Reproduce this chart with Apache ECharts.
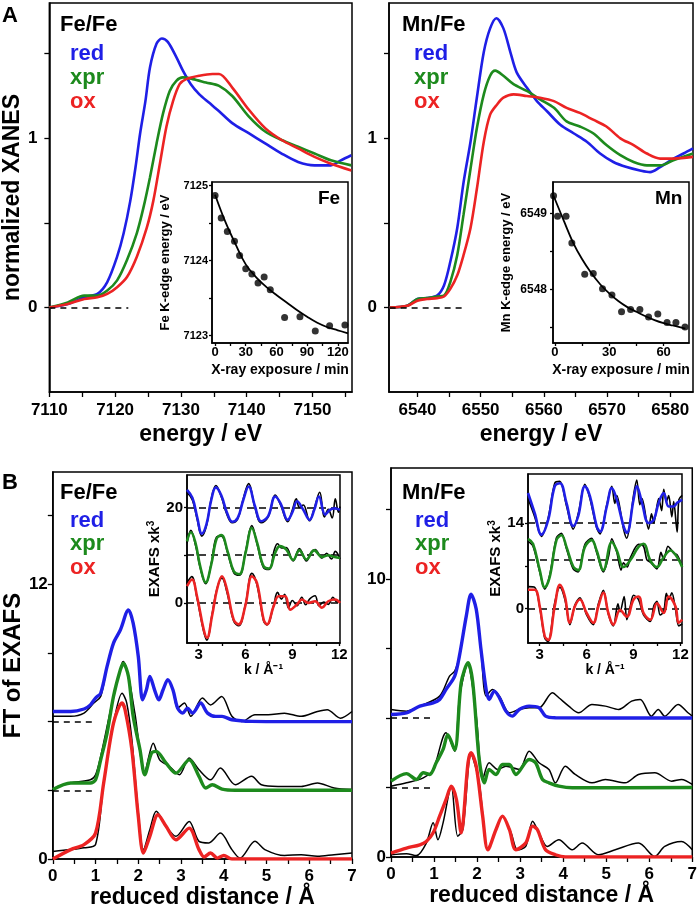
<!DOCTYPE html>
<html>
<head>
<meta charset="utf-8">
<script src="https://cdn.jsdelivr.net/npm/echarts@6/dist/echarts.min.js"></script>
<style>
  html, body { margin: 0; padding: 0; background: #fff; }
  #chart { width: 700px; height: 914px; }
</style>
</head>
<body>
<div id="chart"></div>
<script>
// ---- XANES (panel A), [energy eV, normalized absorption]
const feXanesRed = [[7110,0],[7112.8,0.02],[7115.3,0.06],[7117.3,0.08],[7118.8,0.15],[7120.3,0.30],[7121.3,0.44],[7122.3,0.63],[7123.1,0.83],[7123.8,1.03],[7124.6,1.22],[7125.3,1.42],[7126.3,1.56],[7127.1,1.59],[7128.0,1.57],[7129.3,1.48],[7130.3,1.40],[7131.5,1.32],[7132.8,1.26],[7134.3,1.21],[7135.8,1.16],[7137.8,1.09],[7140.3,1.03],[7142.8,0.97],[7145.3,0.91],[7147.8,0.86],[7150.3,0.84],[7152.8,0.84],[7154.3,0.87],[7155.9,0.90]];
const feXanesXpr = [[7110,0],[7112.8,0.03],[7115.3,0.07],[7117.3,0.07],[7118.8,0.10],[7120.3,0.16],[7121.8,0.28],[7123.3,0.44],[7124.3,0.59],[7125.3,0.77],[7126.3,0.97],[7127.3,1.15],[7128.3,1.28],[7129.3,1.34],[7130.3,1.36],[7131.8,1.35],[7133.8,1.33],[7135.8,1.31],[7137.8,1.25],[7140.3,1.13],[7142.8,1.04],[7145.3,0.99],[7147.8,0.95],[7150.3,0.91],[7152.8,0.87],[7155.9,0.84]];
const feXanesOx = [[7110,0],[7112.8,0.02],[7115.3,0.05],[7117.3,0.06],[7118.8,0.08],[7120.3,0.12],[7121.8,0.18],[7123.3,0.30],[7124.8,0.47],[7125.8,0.63],[7126.8,0.85],[7127.8,1.07],[7128.8,1.22],[7129.8,1.32],[7130.8,1.35],[7132.8,1.37],[7134.8,1.38],[7135.8,1.38],[7137.8,1.30],[7140.3,1.17],[7142.8,1.06],[7145.3,0.99],[7147.8,0.94],[7150.3,0.89],[7152.8,0.85],[7155.9,0.81]];
const mnXanesRed = [[6535.6,0],[6538.4,0.01],[6540,0.05],[6541.5,0.055],[6543.1,0.07],[6544.2,0.13],[6545.2,0.27],[6546.3,0.47],[6547.3,0.74],[6548.4,0.98],[6549.4,1.24],[6550.5,1.51],[6551.5,1.65],[6552.5,1.71],[6553.6,1.65],[6554.7,1.51],[6555.7,1.39],[6557.3,1.30],[6558.9,1.22],[6560.5,1.16],[6562.6,1.08],[6564.7,1.03],[6566.8,0.98],[6568.9,0.91],[6571.0,0.86],[6573.1,0.83],[6575.2,0.81],[6576.8,0.80],[6578.4,0.83],[6580.5,0.88],[6582.1,0.91],[6583.6,0.94]];
const mnXanesXpr = [[6535.6,0],[6538.4,0.01],[6540,0.05],[6541.5,0.055],[6543.1,0.065],[6544.2,0.07],[6545.2,0.15],[6546.3,0.31],[6547.3,0.55],[6548.4,0.82],[6549.4,1.06],[6550.5,1.26],[6551.5,1.37],[6552.3,1.40],[6553.6,1.37],[6555.2,1.32],[6557.3,1.28],[6559.4,1.23],[6561.6,1.18],[6563.6,1.10],[6565.7,1.07],[6567.8,1.03],[6569.9,0.96],[6572.1,0.90],[6574.2,0.86],[6576.3,0.84],[6578.4,0.84],[6580.5,0.87],[6583.6,0.91]];
const mnXanesOx = [[6535.6,0],[6538.4,0.01],[6540,0.04],[6541.5,0.05],[6543.1,0.055],[6544.2,0.065],[6545.2,0.11],[6546.3,0.19],[6547.3,0.31],[6548.4,0.47],[6549.4,0.70],[6550.5,0.98],[6551.5,1.14],[6552.6,1.20],[6553.6,1.24],[6555.2,1.26],[6557.3,1.25],[6559.4,1.24],[6561.6,1.22],[6563.6,1.18],[6565.7,1.15],[6567.8,1.11],[6569.9,1.07],[6572.1,1.00],[6574.2,0.96],[6576.3,0.91],[6578.4,0.88],[6580.5,0.88],[6583.6,0.89]];
const feZeroLine = [7110, 7122];
const mnZeroLine = [6535.6, 6547];

// ---- edge energy vs X-ray exposure (insets of A), [min, eV]
const feEdgePoints = [[0,7124.87],[6,7124.57],[12,7124.39],[19,7124.26],[24,7124.07],[30,7123.89],[36,7123.82],[42,7123.70],[48,7123.78],[54,7123.61],[68,7123.24],[83,7123.25],[98,7123.06],[112,7123.13],[127,7123.14]];
const feEdgeFit = [[0,7124.88],[10,7124.52],[20,7124.22],[30,7123.95],[40,7123.78],[50,7123.65],[60,7123.54],[70,7123.44],[80,7123.34],[90,7123.25],[100,7123.17],[110,7123.11],[120,7123.07],[130,7123.03]];
const mnEdgePoints = [[-0.7,6549.23],[1.5,6548.96],[6.2,6548.96],[9.4,6548.61],[16.5,6548.20],[21.2,6548.21],[26.3,6548.01],[31.5,6547.93],[36.8,6547.71],[41.8,6547.74],[46.9,6547.74],[51.7,6547.64],[56.8,6547.68],[61.9,6547.57],[66.8,6547.57],[71.8,6547.51]];
const mnEdgeFit = [[-0.7,6549.23],[5,6548.9],[10,6548.62],[15,6548.4],[20,6548.22],[25,6548.07],[30,6547.95],[35,6547.85],[40,6547.77],[45,6547.71],[50,6547.65],[55,6547.6],[60,6547.56],[65,6547.53],[72,6547.49]];

// ---- FT of EXAFS (panel B), [reduced distance A, magnitude]; colored = fit, black = data
const feFtRed = [[0,6.44],[0.42,6.44],[0.73,6.55],[0.88,6.73],[1.0,7.03],[1.12,7.24],[1.27,8.41],[1.42,9.43],[1.58,10.0],[1.77,10.88],[1.88,10.3],[2.0,8.84],[2.1,6.95],[2.19,7.39],[2.27,7.97],[2.38,7.39],[2.48,6.95],[2.58,7.39],[2.69,7.83],[2.81,7.39],[2.92,6.59],[3.04,6.37],[3.15,6.59],[3.27,6.37],[3.46,6.81],[3.62,6.37],[3.81,6.23],[3.96,6.23],[4.19,6.08],[4.65,6.01],[5.5,6.0],[7,6.0]];
const feFtRedData = [[0,6.23],[0.42,6.23],[0.73,6.37],[0.96,6.81],[1.12,7.10],[1.27,8.41],[1.42,9.43],[1.58,10.0],[1.77,10.88],[1.88,10.3],[2.0,8.84],[2.1,6.95],[2.19,7.39],[2.27,7.97],[2.38,7.39],[2.48,6.95],[2.58,7.39],[2.69,7.83],[2.81,7.39],[2.92,6.59],[3.08,6.81],[3.23,6.23],[3.5,7.03],[3.69,6.73],[3.95,7.10],[4.19,6.23],[4.42,6.0],[4.73,6.3],[5.04,6.3],[5.42,6.37],[5.81,6.23],[6.19,6.44],[6.42,6.52],[6.73,6.15],[7.0,6.44]];
const feFtXpr = [[0,3.03],[0.42,3.32],[0.73,3.32],[0.88,3.32],[1.0,3.46],[1.12,4.33],[1.27,5.5],[1.42,7.1],[1.58,8.26],[1.65,8.55],[1.77,7.97],[1.88,6.23],[2.04,4.77],[2.15,3.68],[2.31,4.63],[2.42,4.70],[2.65,4.19],[2.88,3.75],[3.19,4.33],[3.42,3.61],[3.58,3.10],[3.73,3.24],[3.96,3.05],[4.27,3.0],[7,3.0]];
const feFtXprData = [[0,3.03],[0.12,3.17],[0.42,3.32],[0.88,3.46],[1.0,3.68],[1.12,4.48],[1.42,7.1],[1.62,8.55],[1.65,8.62],[1.77,7.97],[1.92,6.37],[2.15,3.83],[2.35,5.06],[2.5,4.33],[2.73,4.04],[2.96,3.68],[3.19,4.41],[3.42,3.90],[3.69,3.46],[3.92,3.97],[4.27,3.24],[4.65,3.61],[4.88,3.24],[5.27,3.17],[5.81,3.17],[6.19,3.32],[6.58,3.10],[7.0,3.03]];
const feFtOx = [[0,0],[0.42,0.41],[0.73,0.63],[1.0,1.13],[1.19,3.32],[1.42,5.93],[1.62,6.81],[1.69,6.52],[1.85,4.77],[2.0,1.86],[2.12,0.26],[2.27,0.99],[2.46,1.93],[2.65,1.43],[2.88,0.84],[3.19,1.35],[3.42,0.41],[3.54,0.09],[3.69,0.26],[3.85,0.04],[4.0,0.15],[4.19,0],[7,0]];
const feFtOxData = [[0,0.33],[0.42,0.41],[0.73,0.49],[1.0,0.63],[1.19,3.32],[1.42,5.93],[1.62,7.24],[1.73,6.81],[1.85,5.21],[2.0,2.01],[2.12,0.41],[2.27,1.28],[2.42,2.08],[2.65,1.43],[2.88,0.99],[3.19,1.64],[3.42,0.77],[3.65,0.70],[3.92,1.13],[4.19,0.41],[4.38,0.04],[4.73,0.77],[4.96,0.41],[5.42,0.15],[5.81,0.19],[6.19,0.12],[6.58,0.19],[7.0,0.26]];
const mnFtRed = [[0,5.13],[0.36,5.19],[0.67,5.43],[0.98,5.55],[1.13,5.67],[1.28,6.03],[1.48,6.51],[1.59,7.24],[1.75,8.68],[1.86,9.46],[1.98,8.92],[2.09,7.48],[2.21,6.03],[2.28,5.67],[2.4,5.97],[2.52,5.73],[2.67,5.25],[2.82,5.07],[2.98,5.31],[3.21,5.43],[3.44,5.37],[3.59,5.07],[3.82,5.01],[7,5.0]];
const mnFtRedData = [[0,5.31],[0.36,5.25],[0.67,5.43],[1.13,5.79],[1.36,6.51],[1.48,6.69],[1.59,7.24],[1.75,8.68],[1.86,9.46],[1.98,8.92],[2.09,7.48],[2.21,5.79],[2.36,6.03],[2.52,5.79],[2.75,5.19],[2.98,5.31],[3.21,5.37],[3.44,5.37],[3.75,5.91],[3.9,5.73],[4.13,5.43],[4.36,5.19],[4.67,5.49],[4.98,5.43],[5.29,5.31],[5.59,5.61],[5.79,5.67],[6.05,5.07],[6.21,5.31],[6.36,5.07],[6.67,5.49],[6.9,5.19],[7.0,5.07]];
const mnFtXpr = [[0,2.73],[0.36,3.0],[0.59,2.79],[0.75,3.03],[0.9,2.97],[1.05,3.39],[1.21,3.87],[1.32,4.4],[1.48,3.85],[1.63,6.27],[1.79,6.99],[1.9,6.27],[2.05,3.51],[2.17,2.67],[2.28,3.15],[2.44,2.97],[2.59,3.33],[2.75,3.33],[2.9,2.97],[3.21,3.51],[3.36,3.39],[3.52,2.79],[3.67,2.67],[3.9,2.55],[4.21,2.49],[7,2.5]];
const mnFtXprData = [[0,2.55],[0.36,2.67],[0.75,2.85],[0.98,3.15],[1.28,4.47],[1.48,3.81],[1.59,5.73],[1.78,6.93],[1.98,5.09],[2.13,2.79],[2.28,3.39],[2.48,3.15],[2.67,3.27],[2.98,3.15],[3.21,3.81],[3.44,3.39],[3.67,3.15],[3.82,2.67],[4.05,3.27],[4.28,2.97],[4.67,2.67],[4.98,2.79],[5.44,2.67],[5.75,2.97],[6.13,3.03],[6.52,2.73],[6.75,2.79],[7.0,2.61]];
const mnFtOx = [[0,0.14],[0.36,0.32],[0.67,0.44],[0.82,0.56],[0.98,0.87],[1.13,1.47],[1.28,2.07],[1.4,2.55],[1.52,2.07],[1.63,0.87],[1.79,3.39],[1.86,3.75],[1.98,3.27],[2.13,1.47],[2.25,0.26],[2.44,0.99],[2.59,1.47],[2.75,0.99],[2.9,0.26],[3.13,0.5],[3.29,1.11],[3.4,0.99],[3.59,0.26],[3.82,0.08],[4.05,0],[7,0]];
const mnFtOxData = [[0,0.08],[0.36,0.12],[0.59,0.05],[0.82,0.5],[0.98,1.23],[1.09,0.62],[1.21,1.23],[1.4,2.55],[1.55,0.75],[1.67,0.99],[1.86,3.69],[2.05,2.67],[2.25,0.26],[2.44,0.99],[2.59,1.47],[2.79,0.87],[2.94,0.26],[3.13,0.38],[3.29,1.29],[3.44,0.87],[3.63,0.38],[3.9,0.62],[4.21,0.26],[4.44,0.5],[4.82,0.08],[5.21,0.26],[5.75,0.5],[6.13,0.02],[6.36,0.38],[6.75,0.56],[7.0,0.26]];
const feFtBaselines = [6, 3];
const mnFtBaselines = [5, 2.5];
const ftBaselineEnd = 0.97;

// ---- k-space EXAFS (insets of B), [k 1/A, chi*k^3 + offset]
const feExRed = [[2.25,23.7],[2.6,22.0],[2.9,18.0],[3.2,14.5],[3.5,16.5],[3.8,21.5],[4.1,24.2],[4.45,22.5],[4.8,19.0],[5.15,17.0],[5.5,17.8],[5.85,21.5],[6.2,24.4],[6.6,20.3],[7.0,17.1],[7.45,18.2],[7.9,22.3],[8.25,20.8],[8.7,17.4],[9.0,19.0],[9.3,21.3],[9.7,19.5],[10.1,17.4],[10.4,19.5],[10.7,22.3],[11.1,18.5],[11.4,19.5],[11.7,19.8],[12.05,19.5]];
const feExRedData = [[2.25,23.2],[2.6,21.5],[2.9,17.5],[3.2,14.0],[3.5,16.2],[3.8,21.8],[4.1,24.6],[4.45,22.2],[4.8,18.6],[5.15,16.8],[5.5,17.6],[5.85,21.8],[6.2,25.0],[6.6,20.0],[7.0,16.8],[7.45,18.0],[7.9,22.6],[8.25,20.5],[8.7,17.0],[9.0,19.5],[9.25,21.8],[9.45,20.0],[9.7,20.5],[10.1,17.2],[10.4,19.8],[10.75,23.2],[11.05,18.0],[11.3,19.6],[11.55,17.8],[11.75,21.8],[11.95,19.0],[12.05,20.2]];
const feExXpr = [[2.25,12.9],[2.5,14.8],[2.8,12.5],[3.1,7.6],[3.45,4.3],[3.8,8.0],[4.15,13.5],[4.45,14.2],[4.85,10.8],[5.25,6.6],[5.6,6.0],[6.0,10.5],[6.4,15.7],[6.75,12.5],[7.15,7.7],[7.5,7.2],[7.9,10.5],[8.2,11.9],[8.6,11.2],[9.05,9.0],[9.45,11.0],[9.9,9.1],[10.4,11.0],[10.9,9.6],[11.3,10.0],[11.7,9.6],[12.05,9.4]];
const feExXprData = [[2.25,12.5],[2.5,15.2],[2.8,12.0],[3.1,7.3],[3.45,4.0],[3.8,8.2],[4.15,13.8],[4.45,14.0],[4.85,10.5],[5.25,6.3],[5.6,5.8],[6.0,10.8],[6.4,16.2],[6.75,12.2],[7.15,7.4],[7.5,7.0],[7.85,11.2],[8.05,12.4],[8.3,11.5],[8.6,11.6],[9.05,8.8],[9.45,11.4],[9.9,8.8],[10.2,10.6],[10.45,11.2],[10.9,9.4],[11.2,10.4],[11.5,9.2],[11.75,10.8],[12.05,9.2]];
const feExOx = [[2.25,3.5],[2.57,4.9],[2.89,1.4],[3.32,-5.6],[3.53,-7.3],[3.85,-2.8],[4.17,2.8],[4.49,5.6],[4.81,2.8],[5.24,-3.5],[5.56,-4.5],[5.98,-0.7],[6.41,5.6],[6.73,4.2],[7.16,-3.5],[7.37,-4.5],[7.8,-0.7],[8.12,1.4],[8.54,1.4],[8.86,-1.4],[9.29,-0.35],[9.61,0.7],[10.04,0],[10.46,0.35],[10.89,-1.0],[11.3,0.35],[11.74,0.7],[12.06,0]];
const feExOxData = [[2.25,4.2],[2.55,5.5],[2.89,1.0],[3.32,-6.0],[3.53,-7.8],[3.85,-2.5],[4.17,3.0],[4.49,5.2],[4.81,2.2],[5.24,-3.8],[5.56,-4.8],[5.98,-0.5],[6.41,6.2],[6.73,3.8],[7.16,-3.8],[7.37,-4.6],[7.8,-0.5],[8.05,2.2],[8.3,0.8],[8.5,1.8],[8.75,-1.0],[9.0,0.5],[9.3,-0.6],[9.6,1.2],[9.85,-0.4],[10.1,0.8],[10.45,1.5],[10.7,-0.6],[11.0,0.2],[11.3,-0.3],[11.6,1.2],[11.85,0.2],[12.05,0.5]];
const mnExRed = [[2.25,18.9],[2.68,15.6],[3.11,12.1],[3.54,14.5],[3.96,20.0],[4.29,20.5],[4.71,17.3],[5.14,13.5],[5.46,15.1],[5.89,20.0],[6.21,18.4],[6.64,13.5],[6.86,12.6],[7.29,16.7],[7.61,19.7],[7.93,17.8],[8.36,13.5],[8.57,12.4],[9.0,17.8],[9.21,20.0],[9.54,17.3],[9.96,14.0],[10.29,14.5],[10.61,17.3],[10.93,18.9],[11.25,16.7],[11.57,16.7],[11.79,17.3],[12.11,17.8]];
const mnExRedData = [[2.25,18.0],[2.68,15.0],[3.11,11.8],[3.54,14.8],[3.96,20.5],[4.29,20.8],[4.71,16.8],[5.14,13.0],[5.46,15.5],[5.89,20.3],[6.21,18.0],[6.64,13.2],[6.86,12.2],[7.29,17.0],[7.61,20.0],[7.8,17.2],[7.93,18.5],[8.36,13.0],[8.57,11.5],[8.75,13.5],[9.0,18.5],[9.21,21.0],[9.4,17.0],[9.54,18.0],[9.96,13.0],[10.15,15.5],[10.29,14.0],[10.61,18.0],[10.8,16.0],[10.93,19.5],[11.1,17.5],[11.25,18.5],[11.45,15.0],[11.57,17.5],[11.79,12.5],[11.9,17.8],[12.11,18.5]];
const mnExXpr = [[2.25,11.4],[2.57,10.6],[3.0,6.3],[3.32,3.5],[3.64,5.2],[4.07,11.2],[4.39,12.0],[4.71,10.1],[5.14,6.9],[5.46,6.3],[5.89,10.1],[6.32,11.2],[6.64,9.5],[7.07,6.3],[7.61,10.9],[7.93,9.5],[8.36,6.8],[8.79,7.9],[9.32,10.1],[9.64,10.6],[10.07,7.9],[10.5,6.8],[10.93,8.4],[11.36,9.5],[11.79,8.4],[12.11,6.8]];
const mnExXprData = [[2.25,11.0],[2.57,10.2],[3.0,6.0],[3.32,3.2],[3.64,5.5],[4.07,11.6],[4.39,12.3],[4.71,9.8],[5.14,6.5],[5.46,6.0],[5.89,10.5],[6.32,11.5],[6.64,9.2],[7.07,6.0],[7.4,8.5],[7.61,11.4],[7.93,9.2],[8.2,6.3],[8.36,7.5],[8.6,6.8],[8.79,8.3],[9.32,10.5],[9.64,10.2],[9.85,8.0],[10.07,7.6],[10.5,6.5],[10.75,9.2],[10.93,8.0],[11.2,10.2],[11.36,9.8],[11.6,9.0],[11.79,8.8],[12.11,7.0]];
const mnExOx = [[2.25,3.1],[2.68,3.1],[3.0,0.4],[3.32,-4.5],[3.54,-5.1],[3.96,0.4],[4.29,3.9],[4.61,2.0],[4.93,-2.3],[5.25,0.4],[5.57,1.5],[6.0,-0.7],[6.43,-2.3],[6.75,0.4],[7.07,2.6],[7.39,-0.7],[7.71,-2.6],[8.14,-0.2],[8.57,-1.3],[9.0,1.5],[9.32,2.0],[9.64,-0.7],[10.07,-1.8],[10.5,0.9],[10.93,-0.7],[11.25,2.0],[11.68,0.4],[11.89,-2.3],[12.11,-1.8]];
const mnExOxData = [[2.25,3.6],[2.68,3.5],[3.0,0.2],[3.32,-4.8],[3.54,-5.4],[3.96,1.0],[4.29,3.5],[4.61,1.5],[4.93,-2.6],[5.25,0.6],[5.57,1.8],[6.0,-1.0],[6.43,-2.6],[6.75,0.8],[7.07,3.0],[7.39,-0.9],[7.71,-2.8],[8.0,0.8],[8.14,-0.5],[8.4,2.0],[8.57,-1.8],[8.8,0.5],[9.0,2.2],[9.32,1.5],[9.64,-1.0],[10.07,-2.1],[10.3,0.5],[10.5,1.2],[10.7,-1.0],[10.93,-0.5],[11.1,2.5],[11.25,1.5],[11.45,2.6],[11.68,0.0],[11.89,-2.8],[12.11,-2.5]];
const feExOffsets = [20, 10, 0];
const mnExOffsets = [14, 8, 0];

// ---- tick values
const feXanesTicks = [7110,7115,7120,7125,7130,7135,7140,7145,7150,7155];
const feXanesLabels = [7110,7120,7130,7140,7150];
const mnXanesTicks = [6540,6545,6550,6555,6560,6565,6570,6575,6580];
const mnXanesLabels = [6540,6550,6560,6570,6580];
const xanesYTicks = [0,0.5,1,1.5];
const xanesYLabels = [0,1];
const feInsetXTicks = [0,15,30,45,60,75,90,105,120];
const feInsetXLabels = [0,30,60,90,120];
const feInsetYTicks = [7123,7123.5,7124,7124.5,7125];
const feInsetYLabels = [7123,7124,7125];
const mnInsetXTicks = [0,15,30,45,60];
const mnInsetXLabels = [0,30,60];
const mnInsetYTicks = [6547.5,6548,6548.5,6549];
const mnInsetYLabels = [6548,6549];
const ftXTicks = [0,0.5,1,1.5,2,2.5,3,3.5,4,4.5,5,5.5,6,6.5,7];
const ftXLabels = [0,1,2,3,4,5,6,7];
const feFtYTicks = [0,3,6,9,12,15];
const feFtYLabels = [0,12];
const mnFtYTicks = [0,2.5,5,7.5,10,12.5];
const mnFtYLabels = [0,10];
const exXTicks = [3,4.5,6,7.5,9,10.5,12];
const exXLabels = [3,6,9,12];
const feExYTicks = [0,10,20];
const feExYLabels = [0,20];
const mnExYTicks = [0,7,14];
const mnExYLabels = [0,14];

const FONT = 'Liberation Sans, Arial, sans-serif';
const BLUE = '#1f1fe6', GREEN = '#1d8a1d', RED = '#ec2323';

const chart = echarts.init(document.getElementById('chart'));

function grid(left, top, width, height, inset) {
  return { left, top, width, height, show: true, borderColor: '#000', borderWidth: 1.5,
    backgroundColor: inset ? '#fff' : 'transparent', z: inset ? 5 : 0 };
}

function axis(kind, gi, min, max, ticks, labels, o) {
  return {
    type: 'value', gridIndex: gi, min, max,
    name: o.name || '', nameLocation: 'middle', nameGap: o.gap || 20,
    nameTextStyle: { fontFamily: FONT, fontWeight: 'bold', fontSize: o.nameSize || 23, color: '#000', rich: o.rich },
    axisLine: { show: true, onZero: false, lineStyle: { color: '#000', width: 1.5 } },
    axisTick: { show: true, customValues: ticks, length: o.tick || 5, lineStyle: { color: '#000', width: 1.3 } },
    axisLabel: { customValues: labels, margin: o.margin || 8, fontFamily: FONT, fontWeight: 'bold',
      fontSize: o.size || 17, color: '#000', formatter: v => String(v) },
    splitLine: { show: false },
    z: o.z || 0
  };
}

function line(data, color, width, gi, z, smooth) {
  return { type: 'line', data, xAxisIndex: gi, yAxisIndex: gi, symbol: 'none', smooth: smooth === undefined ? 0.3 : smooth,
    lineStyle: { color, width }, z: z || 2, silent: true };
}

function dashSeg(gi, x0, x1, y) {
  return { type: 'line', data: [], xAxisIndex: gi, yAxisIndex: gi, silent: true, z: 3,
    markLine: { symbol: 'none', silent: true, label: { show: false },
      lineStyle: { color: '#000', width: 1.5, type: [6, 5] },
      data: [[{ coord: [x0, y] }, { coord: [x1, y] }]] } };
}

function dashFull(gi, values) {
  return { type: 'line', data: [], xAxisIndex: gi, yAxisIndex: gi, silent: true, z: 7,
    markLine: { symbol: 'none', silent: true, label: { show: false }, animation: false,
      lineStyle: { color: '#000', width: 1.5, type: [7, 5] },
      data: values.map(v => ({ yAxis: v })) } };
}

function txt(text, left, top, size, color) {
  return { type: 'text', left, top, z: 20,
    style: { text, fontSize: size, fontWeight: 'bold', fontFamily: FONT, fill: color || '#000' } };
}

const exRich = { sup: { fontSize: 10, fontWeight: 'bold', fontFamily: FONT, verticalAlign: 'top', padding: [0, 0, 8, 0] } };

const option = {
  animation: false,
  backgroundColor: '#fff',
  grid: [
    grid(47, 3, 305, 389),
    grid(389, 3, 304, 389),
    grid(212, 182, 136, 161, true),
    grid(553, 182, 136, 161, true),
    grid(48, 472, 304, 387),
    grid(391, 468, 303, 389),
    grid(187, 475, 153, 168, true),
    grid(528, 474, 154, 169, true)
  ],
  xAxis: [
    axis('x', 0, 7110, 7156, feXanesTicks, feXanesLabels, { name: 'energy / eV', gap: 31, margin: 10 }),
    axis('x', 1, 6535.5, 6583.6, mnXanesTicks, mnXanesLabels, { name: 'energy / eV', gap: 31, margin: 10 }),
    axis('x', 2, -3, 130, feInsetXTicks, feInsetXLabels, { name: 'X-ray exposure / min', gap: 20, nameSize: 14, size: 13, margin: 3, tick: 3, z: 6 }),
    axis('x', 3, -1, 74, mnInsetXTicks, mnInsetXLabels, { name: 'X-ray exposure / min', gap: 20, nameSize: 14, size: 13, margin: 3, tick: 3, z: 6 }),
    axis('x', 4, 0, 7, ftXTicks, ftXLabels, { name: 'reduced distance / Å', gap: 20, margin: 9 }),
    axis('x', 5, 0, 7, ftXTicks, ftXLabels, { name: 'reduced distance / Å', gap: 20, margin: 9 }),
    axis('x', 6, 2.25, 12.05, exXTicks, exXLabels, { name: 'k / Å⁻¹', gap: 18, nameSize: 14, size: 15, margin: 4, tick: 3, z: 6 }),
    axis('x', 7, 2.25, 12.1, exXTicks, exXLabels, { name: 'k / Å⁻¹', gap: 18, nameSize: 14, size: 15, margin: 4, tick: 3, z: 6 })
  ],
  yAxis: [
    axis('y', 0, -0.5, 1.8, xanesYTicks, xanesYLabels, { name: 'normalized XANES', gap: 23, margin: 12 }),
    axis('y', 1, -0.5, 1.8, xanesYTicks, xanesYLabels, { margin: 12 }),
    axis('y', 2, 7122.9, 7125.05, feInsetYTicks, feInsetYLabels, { name: 'Fe K-edge energy / eV', gap: 40, nameSize: 13, size: 11, margin: 4, tick: 3, z: 6 }),
    axis('y', 3, 6547.3, 6549.41, mnInsetYTicks, mnInsetYLabels, { name: 'Mn K-edge energy / eV', gap: 40, nameSize: 13, size: 12, margin: 6, tick: 3, z: 6 }),
    axis('y', 4, 0, 16.9, feFtYTicks, feFtYLabels, { name: 'FT of EXAFS', gap: 25, nameSize: 24, margin: 5 }),
    axis('y', 5, 0, 14, mnFtYTicks, mnFtYLabels, { margin: 5 }),
    axis('y', 6, -8.4, 26.8, feExYTicks, feExYLabels, { name: 'EXAFS xk{sup|3}', gap: 18, nameSize: 15, size: 15, margin: 4, tick: 3, z: 6, rich: exRich }),
    axis('y', 7, -5.6, 22, mnExYTicks, mnExYLabels, { name: 'EXAFS xk{sup|3}', gap: 18, nameSize: 15, size: 15, margin: 4, tick: 3, z: 6, rich: exRich })
  ],
  series: [
    // A: XANES
    line(feXanesRed, BLUE, 2.6, 0),
    line(feXanesXpr, GREEN, 2.6, 0),
    line(feXanesOx, RED, 2.6, 0),
    dashSeg(0, feZeroLine[0], feZeroLine[1], 0),
    line(mnXanesRed, BLUE, 2.6, 1),
    line(mnXanesXpr, GREEN, 2.6, 1),
    line(mnXanesOx, RED, 2.6, 1),
    dashSeg(1, mnZeroLine[0], mnZeroLine[1], 0),
    // A insets
    line(feEdgeFit, '#000', 1.8, 2, 7, 0.4),
    { type: 'scatter', data: feEdgePoints, xAxisIndex: 2, yAxisIndex: 2, symbolSize: 7, itemStyle: { color: '#000' }, z: 8, silent: true },
    line(mnEdgeFit, '#000', 1.8, 3, 7, 0.4),
    { type: 'scatter', data: mnEdgePoints, xAxisIndex: 3, yAxisIndex: 3, symbolSize: 7, itemStyle: { color: '#000' }, z: 8, silent: true },
    // B: FT
    line(feFtRedData, '#000', 1.5, 4, 3),
    line(feFtXprData, '#000', 1.5, 4, 3),
    line(feFtOxData, '#000', 1.5, 4, 3),
    line(feFtRed, BLUE, 3.4, 4, 4),
    line(feFtXpr, GREEN, 3.4, 4, 4),
    line(feFtOx, RED, 3.4, 4, 4),
    dashSeg(4, 0, ftBaselineEnd, feFtBaselines[0]),
    dashSeg(4, 0, ftBaselineEnd, feFtBaselines[1]),
    line(mnFtRedData, '#000', 1.5, 5, 3),
    line(mnFtXprData, '#000', 1.5, 5, 3),
    line(mnFtOxData, '#000', 1.5, 5, 3),
    line(mnFtRed, BLUE, 3.4, 5, 4),
    line(mnFtXpr, GREEN, 3.4, 5, 4),
    line(mnFtOx, RED, 3.4, 5, 4),
    dashSeg(5, 0, ftBaselineEnd, mnFtBaselines[0]),
    dashSeg(5, 0, ftBaselineEnd, mnFtBaselines[1]),
    // B insets: EXAFS
    dashFull(6, feExOffsets),
    line(feExRedData, '#000', 1.6, 6, 8, 0.4),
    line(feExXprData, '#000', 1.6, 6, 8, 0.4),
    line(feExOxData, '#000', 1.6, 6, 8, 0.4),
    line(feExRed, BLUE, 2.6, 6, 9, 0.4),
    line(feExXpr, GREEN, 2.6, 6, 9, 0.4),
    line(feExOx, RED, 2.6, 6, 9, 0.4),
    dashFull(7, mnExOffsets),
    line(mnExRedData, '#000', 1.6, 7, 8, 0.3),
    line(mnExXprData, '#000', 1.6, 7, 8, 0.3),
    line(mnExOxData, '#000', 1.6, 7, 8, 0.3),
    line(mnExRed, BLUE, 2.6, 7, 9, 0.4),
    line(mnExXpr, GREEN, 2.6, 7, 9, 0.4),
    line(mnExOx, RED, 2.6, 7, 9, 0.4)
  ],
  graphic: [
    txt('A', 2, 5, 22),
    txt('Fe/Fe', 60, 14, 22),
    txt('red', 70, 43, 22, BLUE),
    txt('xpr', 70, 67, 22, GREEN),
    txt('ox', 70, 91, 22, RED),
    txt('Mn/Fe', 402, 14, 22),
    txt('red', 414, 43, 22, BLUE),
    txt('xpr', 414, 67, 22, GREEN),
    txt('ox', 414, 91, 22, RED),
    txt('Fe', 318, 189, 19),
    txt('Mn', 655, 189, 19),
    txt('B', 2, 472, 22),
    txt('Fe/Fe', 60, 482, 22),
    txt('red', 70, 510, 22, BLUE),
    txt('xpr', 70, 533, 22, GREEN),
    txt('ox', 70, 557, 22, RED),
    txt('Mn/Fe', 402, 482, 22),
    txt('red', 415, 510, 22, BLUE),
    txt('xpr', 415, 533, 22, GREEN),
    txt('ox', 415, 557, 22, RED)
  ]
};

chart.setOption(option);
</script>
</body>
</html>
